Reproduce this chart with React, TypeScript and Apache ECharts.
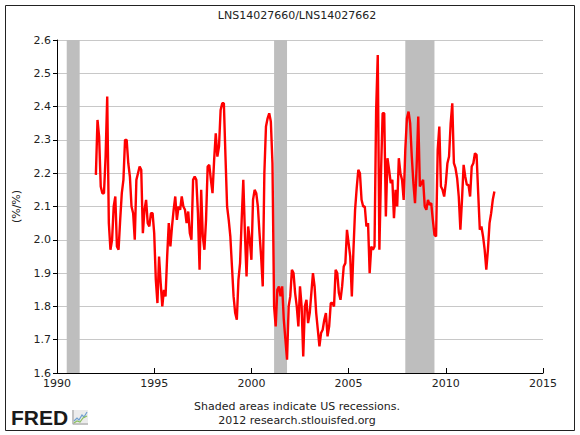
import React, { useEffect, useRef } from "react";
import * as echarts from "echarts";

// ---- Data ----
const chartTitle = "LNS14027660/LNS14027662";
const yAxisName = "(%/%)";
const footerLine1 = "Shaded areas indicate US recessions.";
const footerLine2 = "2012 research.stlouisfed.org";

const startYear = 1992; // first observation: Jan 1992, monthly
const ratioValues: number[] = [
  // 1992-01 .. 1996-07
  2.195, 2.36, 2.31, 2.16, 2.14, 2.14, 2.25, 2.43, 2.05, 1.97,
  2.0, 2.1, 2.13, 1.98, 1.97, 2.06, 2.14, 2.18, 2.3, 2.3,
  2.23, 2.19, 2.1, 2.08, 2.0, 2.18, 2.2, 2.22, 2.21, 2.02,
  2.09, 2.12, 2.05, 2.04, 2.08, 2.08, 2.02, 1.88, 1.81, 1.95,
  1.87, 1.8, 1.85, 1.83, 1.95, 2.05, 1.98, 2.04, 2.09, 2.13,
  2.06, 2.1, 2.09, 2.13, 2.1,
  // 1996-08 .. 2001-03
  2.09, 2.05, 2.085, 2.02, 2.0, 2.18, 2.19, 2.18, 2.08, 1.91,
  2.15, 2.01, 1.97, 2.06, 2.22, 2.225, 2.18, 2.14, 2.24, 2.32,
  2.25, 2.28, 2.39, 2.41, 2.41, 2.25, 2.1, 2.06, 2.01, 1.92,
  1.83, 1.78, 1.76, 1.88, 1.93, 2.06, 2.18, 2.02, 1.89, 2.04,
  2.0, 1.94, 2.12, 2.15, 2.14, 2.1, 2.02, 1.95, 1.86, 2.2,
  2.34, 2.365, 2.38, 2.355, 2.23, 1.8,
  // 2001-04 .. 2005-10
  1.74, 1.85, 1.86, 1.83, 1.86, 1.76, 1.7, 1.64, 1.8, 1.83,
  1.91, 1.9, 1.84, 1.8, 1.74, 1.86, 1.8, 1.65, 1.8, 1.82,
  1.75, 1.78, 1.84, 1.9, 1.86, 1.78, 1.73, 1.68, 1.72, 1.73,
  1.76, 1.78, 1.71, 1.74, 1.81, 1.81, 1.8, 1.91, 1.9, 1.84,
  1.82, 1.86, 1.92, 1.93, 2.03, 1.99, 1.95, 1.83, 1.97, 2.09,
  2.155, 2.21, 2.2, 2.12, 2.1,
  // 2005-11 .. 2009-10
  2.1, 2.04, 2.05, 1.9, 1.98, 1.97, 1.98, 2.39, 2.555, 1.97,
  2.2, 2.38, 2.38, 2.07, 2.245, 2.21, 2.17, 2.18, 2.065, 2.15,
  2.1, 2.245, 2.2, 2.18, 2.12, 2.27, 2.365, 2.385, 2.35, 2.25,
  2.17, 2.11, 2.22, 2.37, 2.16, 2.17, 2.18, 2.1, 2.09, 2.12,
  2.105, 2.11, 2.06, 2.015, 2.01, 2.27, 2.34, 2.16,
  // 2009-11 .. 2012-07
  2.15, 2.13, 2.17, 2.23, 2.25, 2.35, 2.41, 2.23, 2.215, 2.185,
  2.13, 2.03, 2.12, 2.225, 2.19, 2.165, 2.165, 2.13, 2.22, 2.23,
  2.26, 2.255, 2.14, 2.03, 2.04, 2.01, 1.97, 1.91, 1.97, 2.05,
  2.08, 2.12, 2.145,
];

// US recessions: [start year, start month, end year, end month]
const recessions: [number, number, number, number][] = [
  [1990, 7, 1991, 3],
  [2001, 3, 2001, 11],
  [2007, 12, 2009, 6],
];

const xMin = 1990;
const xMax = 2015;
const xStep = 5;
const yMin = 1.6;
const yMax = 2.6;
const yStep = 0.1;

const FONT = "DejaVu Sans, Verdana, sans-serif";

export default function App() {
  const ref = useRef<HTMLDivElement>(null);

  useEffect(() => {
    if (!ref.current) return;
    const chart = echarts.init(ref.current, null, { renderer: "svg" });

    const lineData = ratioValues.map((v, i) => [startYear + i / 12, v]);
    const areas = recessions.map(([sy, sm, ey, em]) => [
      { xAxis: sy + (sm - 1) / 12 },
      { xAxis: ey + (em - 1) / 12 },
    ]);

    chart.setOption({
      animation: false,
      backgroundColor: "#ffffff",
      grid: { left: 57, right: 37, top: 40, bottom: 62, containLabel: false },
      xAxis: {
        type: "value",
        min: xMin,
        max: xMax,
        interval: xStep,
        axisLine: { show: true, lineStyle: { color: "#000", width: 1 } },
        axisTick: { show: true, inside: true, length: 5, lineStyle: { color: "#000" } },
        axisLabel: {
          show: true,
          margin: 5,
          color: "#222",
          fontSize: 11,
          fontFamily: FONT,
          formatter: (v: number) => String(Math.round(v)),
        },
        splitLine: { show: false },
      },
      yAxis: {
        type: "value",
        min: yMin,
        max: yMax,
        interval: yStep,
        name: yAxisName,
        nameLocation: "middle",
        nameRotate: 90,
        nameGap: 35,
        nameTextStyle: { color: "#222", fontSize: 11, fontFamily: FONT },
        axisLine: { show: true, lineStyle: { color: "#000", width: 1 } },
        axisTick: { show: true, inside: false, length: 4, lineStyle: { color: "#000" } },
        axisLabel: {
          show: true,
          margin: 6,
          color: "#222",
          fontSize: 11,
          fontFamily: FONT,
          formatter: (v: number) => v.toFixed(1),
        },
        splitLine: { show: true, lineStyle: { color: "#c8c8c8", width: 1 } },
      },
      series: [
        {
          type: "line",
          data: lineData,
          showSymbol: false,
          symbol: "none",
          silent: true,
          z: 3,
          lineStyle: { color: "#ff0000", width: 2.4 },
          emphasis: { disabled: true },
          markArea: {
            silent: true,
            itemStyle: { color: "#bebebe", opacity: 1 },
            data: areas,
          },
        },
      ],
      graphic: [
        {
          type: "rect",
          shape: { x: 5.5, y: 5.5, width: 569, height: 425 },
          style: { fill: "none", stroke: "#222", lineWidth: 1 },
          silent: true,
        },
        {
          type: "text",
          x: 297,
          y: 15,
          style: {
            text: chartTitle,
            fill: "#222",
            fontSize: 11,
            fontFamily: FONT,
            align: "center",
            verticalAlign: "middle",
          },
        },
        {
          type: "text",
          x: 297,
          y: 406,
          style: {
            text: footerLine1,
            fill: "#222",
            fontSize: 11,
            fontFamily: FONT,
            align: "center",
            verticalAlign: "middle",
          },
        },
        {
          type: "text",
          x: 297,
          y: 420,
          style: {
            text: footerLine2,
            fill: "#222",
            fontSize: 11,
            fontFamily: FONT,
            align: "center",
            verticalAlign: "middle",
          },
        },
        {
          type: "text",
          x: 11,
          y: 417,
          style: {
            text: "FRED",
            fill: "#1a1a1a",
            fontSize: 21,
            fontWeight: "bold",
            fontFamily: "Liberation Sans, Arial, sans-serif",
            align: "left",
            verticalAlign: "middle",
          },
        },
        {
          type: "rect",
          shape: { x: 72, y: 410, width: 16, height: 15 },
          style: { fill: "#ececec", stroke: "none" },
        },
        {
          type: "polyline",
          shape: { points: [[73, 410], [73, 424], [88, 424]] },
          style: { stroke: "#9a9a9a", lineWidth: 1, fill: "none" },
        },
        {
          type: "polyline",
          shape: { points: [[74, 421], [77, 418], [79, 420], [82, 415], [84, 417], [87, 412]] },
          style: { stroke: "#6f9fd0", lineWidth: 1.2, fill: "none" },
        },
        {
          type: "polyline",
          shape: { points: [[74, 423], [77, 421], [80, 422], [83, 418], [87, 416]] },
          style: { stroke: "#8bbf5e", lineWidth: 1.2, fill: "none" },
        },
      ],
    });

    return () => {
      chart.dispose();
    };
  }, []);

  return (
    <div
      ref={ref}
      style={{ position: "fixed", left: 0, top: 0, width: 580, height: 435, background: "#fff" }}
    />
  );
}
